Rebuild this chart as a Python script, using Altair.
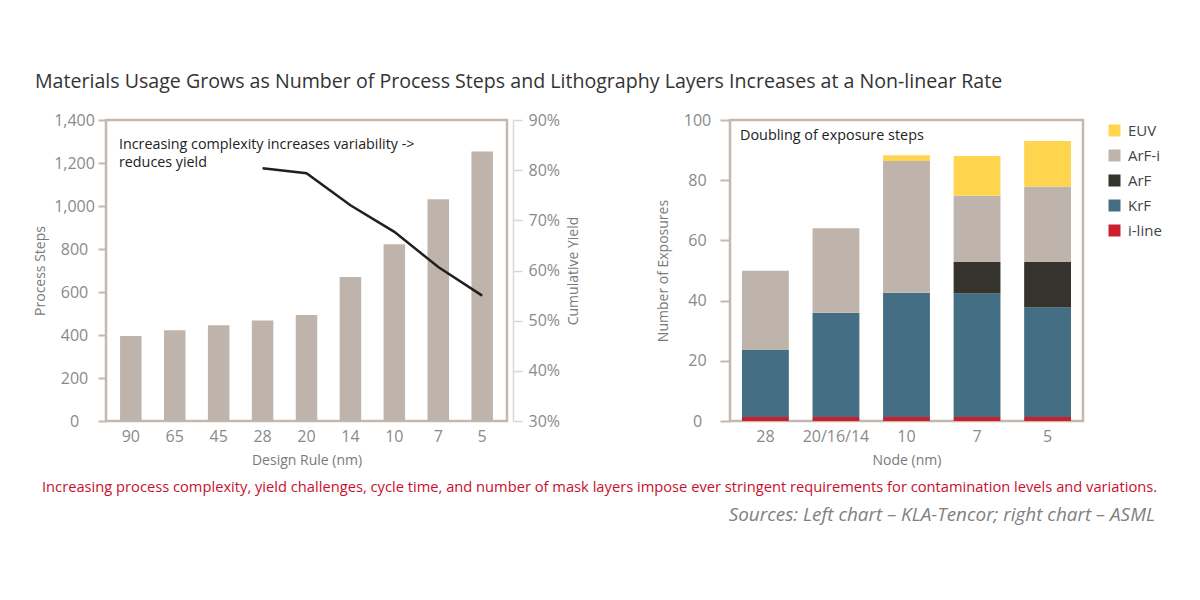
import altair as alt
import pandas as pd

FONT = "Open Sans"

# ---------------- data ----------------
design_rules = ["90", "65", "45", "28", "20", "14", "10", "7", "5"]
process_steps = [395, 422, 445, 468, 493, 670, 822, 1031, 1253]

yield_rules = ["28", "20", "14", "10", "7", "5"]
yield_order = [0, 1, 2, 3, 4, 5]
cumulative_yield = [0.804, 0.794, 0.730, 0.677, 0.607, 0.550]

nodes = ["28", "20/16/14", "10", "7", "5"]
litho_types = ["EUV", "ArF-i", "ArF", "KrF", "i-line"]
litho_colors = ["#FFD44F", "#BFB4AC", "#35332D", "#446E84", "#CC1F2D"]
stack_rank = {"i-line": 0, "KrF": 1, "ArF": 2, "ArF-i": 3, "EUV": 4}

iline = [1.3, 1.3, 1.3, 1.3, 1.3]
krf = [22.3, 34.7, 41.3, 41.1, 36.4]
arf = [0.0, 0.0, 0.0, 10.4, 15.1]
arfi = [26.3, 28.0, 43.8, 22.0, 25.1]
euv = [0.0, 0.0, 1.9, 13.2, 15.1]

left_ticks = [0, 200, 400, 600, 800, 1000, 1200, 1400]
yield_ticks = [0.3, 0.4, 0.5, 0.6, 0.7, 0.8, 0.9]
right_ticks = [0, 20, 40, 60, 80, 100]

TITLE = ("Materials Usage Grows as Number of Process Steps and Lithography "
         "Layers Increases at a Non-linear Rate")
NOTE_LEFT = "Increasing complexity increases variability ->\nreduces yield"
NOTE_RIGHT = "Doubling of exposure steps"
CAPTION = ("Increasing process complexity, yield challenges, cycle time, and number of "
           "mask layers impose ever stringent requirements for contamination levels and variations.")
SOURCES = "Sources: Left chart \u2013 KLA-Tencor; right chart \u2013 ASML"

# ---------------- tables ----------------
left_df = pd.DataFrame({"rule": design_rules, "steps": process_steps})
line_df = pd.DataFrame({"rule": yield_rules, "yield": cumulative_yield, "idx": yield_order})

rows = []
for series_name, vals in [("i-line", iline), ("KrF", krf), ("ArF", arf),
                          ("ArF-i", arfi), ("EUV", euv)]:
    for n, v in zip(nodes, vals):
        rows.append({"node": n, "type": series_name, "value": v,
                     "rank": stack_rank[series_name]})
right_df = pd.DataFrame(rows)

FRAME = "#C3B9B1"
LABEL = "#8a8a8a"
TITLEC = "#7a7a7a"

W_L, H = 401, 301
W_R = 353


def txt(text, x, y, size, color, align="left", style="normal", baseline="middle", lh=None):
    kw = dict(align=align, baseline=baseline, fontSize=size, color=color,
              font=FONT, fontStyle=style)
    if lh is not None:
        kw["lineBreak"] = "\n"
        kw["lineHeight"] = lh
    return alt.Chart(pd.DataFrame({"t": [text]})).mark_text(**kw).encode(
        text="t:N", x=alt.value(x), y=alt.value(y))


# ---------------- left chart ----------------
x_left = alt.X(
    "rule:N", sort=design_rules,
    scale=alt.Scale(paddingInner=0.51, paddingOuter=0.32),
    axis=alt.Axis(title="Design Rule (nm)", labelAngle=0, ticks=False, domain=False,
                  labelPadding=7, titleY=39, titleBaseline="middle"))

bars = alt.Chart(left_df).mark_bar(color="#BFB4AB").encode(
    x=x_left,
    y=alt.Y("steps:Q", scale=alt.Scale(domain=[0, 1400], nice=False),
            axis=alt.Axis(title="Process Steps", orient="left", values=left_ticks,
                          format=",.0f", domain=False, tickColor=FRAME, tickWidth=2,
                          tickSize=8, labelAlign="center", labelPadding=24,
                          titleX=-66, titleY=H / 2, titleBaseline="middle",
                          titleAngle=270)))

line = alt.Chart(line_df).mark_line(color="#231F20", strokeWidth=2.5).encode(
    x=x_left,
    y=alt.Y("yield:Q", scale=alt.Scale(domain=[0.3, 0.9], nice=False, zero=False),
            axis=alt.Axis(title="Cumulative Yield", orient="right", values=yield_ticks,
                          format=".0%", offset=6, domainColor="#DDD6D0", domainWidth=1.5,
                          tickColor="#DDD6D0", tickWidth=1.5, tickSize=9,
                          labelPadding=6, labelAlign="left",
                          titleX=60, titleY=H / 2, titleBaseline="middle",
                          titleAngle=270)),
    order=alt.Order("idx:Q"))

left = alt.layer(
    bars, line,
    txt(NOTE_LEFT, 13, 25, 14.3, "#222222", lh=17.5),
    txt(TITLE, -71, -38, 19.6, "#333333"),
    txt(CAPTION, -64, 368, 14.7, "#C8102E"),
    txt(SOURCES, 1049, 395, 18.9, "#808080", align="right", style="italic"),
).resolve_scale(y="independent").properties(width=W_L, height=H)

# ---------------- right chart ----------------
stack_bars = alt.Chart(right_df).mark_bar().encode(
    x=alt.X("node:N", sort=nodes,
            scale=alt.Scale(paddingInner=0.336, paddingOuter=0.17),
            axis=alt.Axis(title="Node (nm)", labelAngle=0, ticks=False, domain=False,
                          labelPadding=7, titleY=39, titleBaseline="middle")),
    y=alt.Y("value:Q", stack="zero", scale=alt.Scale(domain=[0, 100], nice=False),
            axis=alt.Axis(title="Number of Exposures", values=right_ticks, domain=False,
                          tickColor=FRAME, tickWidth=2, tickSize=10,
                          labelAlign="center", labelPadding=23,
                          titleX=-67, titleY=H / 2, titleBaseline="middle",
                          titleAngle=270)),
    color=alt.Color("type:N",
                    scale=alt.Scale(domain=litho_types, range=litho_colors),
                    legend=alt.Legend(title=None, orient="none", legendX=1001, legendY=3,
                                      symbolType="square", symbolSize=144,
                                      symbolStrokeWidth=0, labelFont=FONT,
                                      labelFontSize=15, labelColor="#444444",
                                      rowPadding=9, labelOffset=6, padding=0)),
    order=alt.Order("rank:Q", sort="ascending"))

right = alt.layer(
    stack_bars,
    txt(NOTE_RIGHT, 10, 16, 14.4, "#222222"),
).properties(width=W_R, height=H)

chart = alt.hconcat(left, right, spacing=223, bounds="flush").properties(
    padding={"left": 23, "top": 62, "right": 5, "bottom": 5}
).configure_view(
    stroke=FRAME, strokeWidth=2.5
).configure_axis(
    labelFont=FONT, titleFont=FONT, labelColor=LABEL, titleColor=TITLEC,
    labelFontSize=16, titleFontSize=14, titleFontWeight="normal", grid=False
)

chart.save("out.html", embed_options={"renderer": "svg", "actions": False})
